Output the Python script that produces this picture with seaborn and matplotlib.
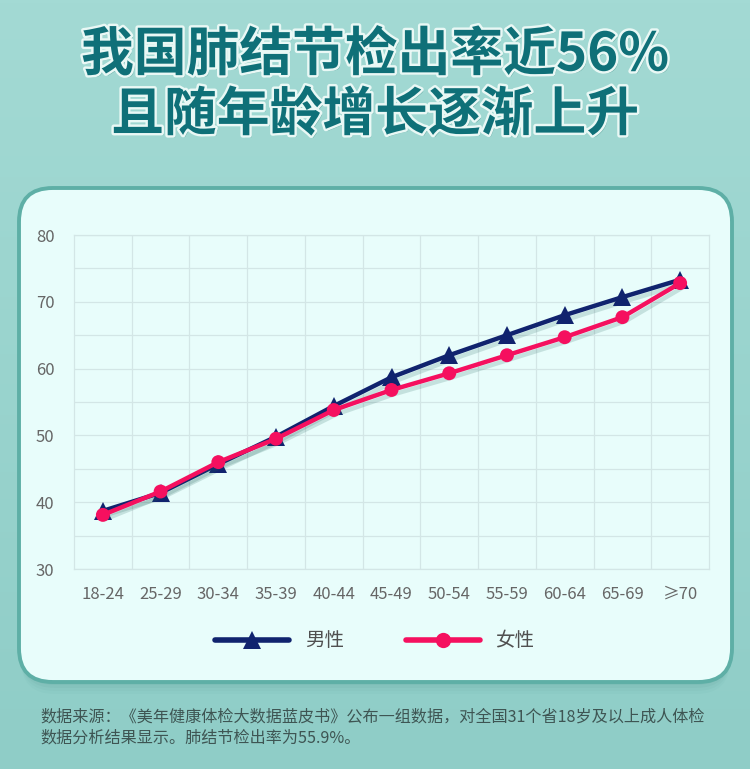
import numpy as np
import pandas as pd
import matplotlib
matplotlib.use("Agg")
import matplotlib.pyplot as plt
import matplotlib.patheffects as pe
from matplotlib.patches import FancyBboxPatch
from matplotlib.lines import Line2D
from matplotlib.colors import LinearSegmentedColormap
import seaborn as sns

# Lung nodule detection rate (%) by age group
age_groups = ["18-24", "25-29", "30-34", "35-39", "40-44", "45-49",
              "50-54", "55-59", "60-64", "65-69", "≥70"]
male_rate = [38.7, 41.4, 45.7, 49.8, 54.4, 58.7, 62.0, 65.0, 68.0, 70.7, 73.3]
female_rate = [38.1, 41.6, 46.0, 49.5, 53.8, 56.8, 59.3, 62.0, 64.7, 67.7, 72.8]
series_names = ["男性", "女性"]
y_ticks = [30, 40, 50, 60, 70, 80]

title_lines = ["我国肺结节检出率近56%", "且随年龄增长逐渐上升"]
source_lines = ["数据来源：《美年健康体检大数据蓝皮书》公布一组数据，对全国31个省18岁及以上成人体检",
                "数据分析结果显示。肺结节检出率为55.9%。"]

df = pd.DataFrame({
    "age": age_groups * 2,
    "pos": list(range(len(age_groups))) * 2,
    "rate": male_rate + female_rate,
    "sex": [series_names[0]] * len(age_groups) + [series_names[1]] * len(age_groups),
})

sns.set_theme(style="white")
plt.rcParams["font.family"] = ["Noto Sans CJK SC", "DejaVu Sans"]

W, H = 750, 769
fig = plt.figure(figsize=(W / 100, H / 100), dpi=100)

# background gradient
bg = fig.add_axes([0, 0, 1, 1], zorder=-10)
grad = np.linspace(0, 1, 256).reshape(-1, 1)
bg_cmap = LinearSegmentedColormap.from_list("bg", ["#a3dad4", "#8fcdc7"])
bg.imshow(grad, aspect="auto", cmap=bg_cmap, extent=[0, 1, 0, 1], origin="upper", zorder=0)
bg.set_xlim(0, 1)
bg.set_ylim(0, 1)
bg.axis("off")

def fx(px):
    return px / W

def fy(py):
    return 1 - py / H

# card with soft shadow and border
card_l, card_r, card_t, card_b = 19, 732, 188, 682
for i, a in enumerate([0.07, 0.05, 0.04, 0.03]):
    sh = FancyBboxPatch((fx(card_l + 2), fy(card_b + 3 + i * 3)),
                        fx(card_r - card_l - 4), (card_b - card_t) / H,
                        boxstyle="round,pad=0,rounding_size=0.045",
                        transform=bg.transAxes, facecolor="#2d7a73",
                        edgecolor="none", alpha=a, zorder=2,
                        mutation_aspect=W / H)
    bg.add_patch(sh)
card = FancyBboxPatch((fx(card_l), fy(card_b)), fx(card_r - card_l), (card_b - card_t) / H,
                      boxstyle="round,pad=0,rounding_size=0.045",
                      transform=bg.transAxes, facecolor="#e8fdfb",
                      edgecolor="#5eafa6", linewidth=2.8, zorder=3,
                      mutation_aspect=W / H)
bg.add_patch(card)

# title
title_fx = [pe.withSimplePatchShadow(offset=(1.5, -1.5), shadow_rgbFace="#3f8d86", alpha=0.6),
            pe.withStroke(linewidth=3.5, foreground="#e9f8f5")]
for text, y in zip(title_lines, [55, 115]):
    fig.text(0.5, fy(y), text, ha="center", va="center", fontsize=38,
             fontweight="bold", color="#0f7078", path_effects=title_fx)

# chart axes
ax = fig.add_axes([fx(74), fy(569), fx(709 - 74), (569 - 235) / H])
ax.set_facecolor("none")

line_shadow = [pe.SimpleLineShadow(offset=(2, -3), shadow_color="#24645e", alpha=0.18),
               pe.Normal()]
palette = {series_names[0]: "#10236e", series_names[1]: "#f5105f"}
markers = {series_names[0]: "^", series_names[1]: "o"}

for name in series_names:
    sub = df[df["sex"] == name]
    sns.lineplot(data=sub, x="pos", y="rate", ax=ax, color=palette[name],
                 marker=markers[name], markersize=13 if name == series_names[0] else 10,
                 markeredgewidth=0, linewidth=3.2, sort=False, legend=False,
                 path_effects=line_shadow, zorder=3 if name == series_names[0] else 4)

ax.set_xlim(-0.5, len(age_groups) - 0.5)
ax.set_ylim(30, 80)
ax.set_yticks(y_ticks)
ax.set_yticks(np.arange(35, 80, 10), minor=True)
ax.set_xticks(range(len(age_groups)))
ax.set_xticklabels(age_groups)
ax.set_xticks(np.arange(0.5, len(age_groups) - 0.5, 1), minor=True)
ax.grid(False)
grid_color = "#d3e6e6"
ax.grid(True, which="minor", axis="both", color=grid_color, linewidth=0.9)
ax.grid(True, which="major", axis="y", color=grid_color, linewidth=0.9)
for s in ax.spines.values():
    s.set_color(grid_color)
    s.set_linewidth(0.9)
ax.set_xlabel("")
ax.set_ylabel("")
ax.tick_params(axis="both", which="both", length=0, labelsize=12, colors="#666666")
ax.tick_params(axis="x", pad=12)
ax.tick_params(axis="y", pad=14)

# legend
handles = [Line2D([0], [0], color=palette[n], marker=markers[n], linewidth=4,
                  markersize=13 if n == series_names[0] else 11, markeredgewidth=0)
           for n in series_names]
fig.legend(handles, series_names, loc="center", bbox_to_anchor=(0.5, fy(641)),
           ncol=2, frameon=False, fontsize=14, handlelength=3.8, columnspacing=3.2,
           handletextpad=0.8, labelcolor="#505050")

# source note
for text, y in zip(source_lines, [717, 738]):
    fig.text(fx(40), fy(y), text, ha="left", va="center", fontsize=11.6, color="#3e5553")

fig.savefig("out.png", dpi=100)
